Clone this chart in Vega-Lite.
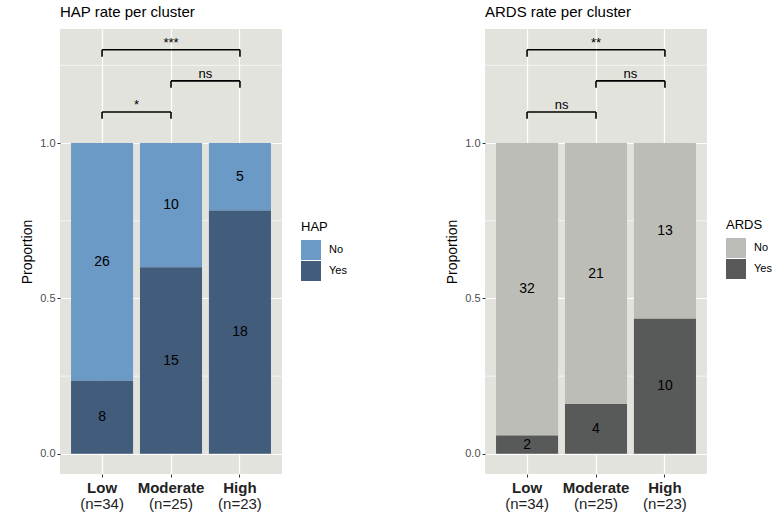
{
  "$schema": "https://vega.github.io/schema/vega-lite/v6.json",
  "padding": {"left": 20, "top": 5, "right": 0, "bottom": 5},
  "datasets": {
    "hap": [
      {"cluster": "Low", "HAP": "No", "n": 26},
      {"cluster": "Low", "HAP": "Yes", "n": 8},
      {"cluster": "Moderate", "HAP": "No", "n": 10},
      {"cluster": "Moderate", "HAP": "Yes", "n": 15},
      {"cluster": "High", "HAP": "No", "n": 5},
      {"cluster": "High", "HAP": "Yes", "n": 18}
    ],
    "ards": [
      {"cluster": "Low", "ARDS": "No", "n": 32},
      {"cluster": "Low", "ARDS": "Yes", "n": 2},
      {"cluster": "Moderate", "ARDS": "No", "n": 21},
      {"cluster": "Moderate", "ARDS": "Yes", "n": 4},
      {"cluster": "High", "ARDS": "No", "n": 13},
      {"cluster": "High", "ARDS": "Yes", "n": 10}
    ],
    "hapsig": [
      {"from": "Low", "to": "Moderate", "y": 1.10, "tip": 1.078, "label": "*", "wide": false},
      {"from": "Moderate", "to": "High", "y": 1.20, "tip": 1.178, "label": "ns", "wide": false},
      {"from": "Low", "to": "High", "y": 1.30, "tip": 1.278, "label": "***", "wide": true}
    ],
    "ardssig": [
      {"from": "Low", "to": "Moderate", "y": 1.10, "tip": 1.078, "label": "ns", "wide": false},
      {"from": "Moderate", "to": "High", "y": 1.20, "tip": 1.178, "label": "ns", "wide": false},
      {"from": "Low", "to": "High", "y": 1.30, "tip": 1.278, "label": "**", "wide": true}
    ],
    "minor": [{"v": 0.25}, {"v": 0.75}, {"v": 1.25}]
  },
  "hconcat": [
    {
      "width": 222,
      "height": 445,
      "title": {"text": "HAP rate per cluster"},
      "resolve": {"axis": {"x": "independent", "y": "independent"}},
      "layer": [
        {
          "data": {"name": "minor"},
          "mark": {"type": "rule", "color": "white", "strokeWidth": 0.6},
          "encoding": {"y": {"field": "v", "type": "quantitative", "scale": {"domain": [-0.065, 1.367], "nice": false, "zero": false}, "axis": null}}
        },
        {
          "data": {"name": "hap"},
          "mark": {"type": "bar"},
          "encoding": {
            "x": {"field": "cluster", "type": "nominal", "scale": {"domain": ["Low", "Moderate", "High"], "paddingInner": 0.1, "paddingOuter": 0.16},
              "axis": {"title": null, "labelFontWeight": "bold", "labelFontSize": 15, "labelColor": "#222222", "labelAngle": 0, "bandPosition": 0.5, "grid": true, "labelPadding": 3}},
            "y": {"field": "n", "type": "quantitative", "stack": "normalize", "scale": {"domain": [-0.065, 1.367], "nice": false, "zero": false},
              "axis": {"title": "Proportion", "values": [0, 0.5, 1], "labelExpr": "format(datum.value, '.1f')", "grid": true}},
            "color": {"field": "HAP", "type": "nominal", "scale": {"domain": ["No", "Yes"], "range": ["#6a9ac5", "#425d7c"]},
              "legend": {"title": "HAP", "orient": "none", "legendX": 241, "legendY": 192}},
            "order": {"field": "HAP", "sort": "descending"}
          }
        },
        {
          "data": {"name": "hap"},
          "mark": {"type": "text", "fontSize": 14, "color": "black"},
          "encoding": {
            "x": {"field": "cluster", "type": "nominal", "scale": {"domain": ["Low", "Moderate", "High"]},
              "axis": {"orient": "bottom", "title": null, "labelExpr": "datum.value == 'Low' ? '(n=34)' : datum.value == 'Moderate' ? '(n=25)' : '(n=23)'", "labelFontSize": 15, "labelFontWeight": "normal", "labelColor": "#222222", "ticks": false, "domain": false, "grid": false, "labelPadding": 22, "labelAngle": 0, "bandPosition": 0.5}},
            "y": {"field": "n", "type": "quantitative", "stack": "normalize", "bandPosition": 0.5, "scale": {"domain": [-0.065, 1.367], "nice": false, "zero": false}, "axis": null},
            "detail": {"field": "HAP", "type": "nominal"},
            "order": {"field": "HAP", "sort": "descending"},
            "text": {"field": "n", "type": "quantitative"}
          }
        },
        {
          "data": {"name": "hapsig"},
          "mark": {"type": "rule", "color": "black", "strokeWidth": 1.6},
          "encoding": {
            "x": {"field": "from", "type": "nominal", "scale": {"domain": ["Low", "Moderate", "High"]}, "bandPosition": 0.5, "axis": null},
            "x2": {"field": "to", "bandPosition": 0.5},
            "y": {"field": "y", "type": "quantitative", "scale": {"domain": [-0.065, 1.367], "nice": false, "zero": false}, "axis": null}
          }
        },
        {
          "data": {"name": "hapsig"},
          "mark": {"type": "rule", "color": "black", "strokeWidth": 1.6},
          "encoding": {
            "x": {"field": "from", "type": "nominal", "scale": {"domain": ["Low", "Moderate", "High"]}, "bandPosition": 0.5, "axis": null},
            "y": {"field": "y", "type": "quantitative", "scale": {"domain": [-0.065, 1.367], "nice": false, "zero": false}, "axis": null},
            "y2": {"field": "tip"}
          }
        },
        {
          "data": {"name": "hapsig"},
          "mark": {"type": "rule", "color": "black", "strokeWidth": 1.6},
          "encoding": {
            "x": {"field": "to", "type": "nominal", "scale": {"domain": ["Low", "Moderate", "High"]}, "bandPosition": 0.5, "axis": null},
            "y": {"field": "y", "type": "quantitative", "scale": {"domain": [-0.065, 1.367], "nice": false, "zero": false}, "axis": null},
            "y2": {"field": "tip"}
          }
        },
        {
          "data": {"name": "hapsig"},
          "transform": [{"filter": "!datum.wide"}],
          "mark": {"type": "text", "fontSize": 13, "baseline": "alphabetic", "dy": -3, "color": "black"},
          "encoding": {
            "x": {"field": "from", "type": "nominal", "scale": {"domain": ["Low", "Moderate", "High"]}, "bandPosition": 1.0556, "axis": null},
            "y": {"field": "y", "type": "quantitative", "scale": {"domain": [-0.065, 1.367], "nice": false, "zero": false}, "axis": null},
            "text": {"field": "label"}
          }
        },
        {
          "data": {"name": "hapsig"},
          "transform": [{"filter": "datum.wide"}],
          "mark": {"type": "text", "fontSize": 13, "baseline": "alphabetic", "dy": -3, "color": "black"},
          "encoding": {
            "x": {"field": "from", "type": "nominal", "scale": {"domain": ["Low", "Moderate", "High"]}, "bandPosition": 1.6111, "axis": null},
            "y": {"field": "y", "type": "quantitative", "scale": {"domain": [-0.065, 1.367], "nice": false, "zero": false}, "axis": null},
            "text": {"field": "label"}
          }
        }
      ]
    },
    {
      "width": 222,
      "height": 445,
      "title": {"text": "ARDS rate per cluster"},
      "resolve": {"axis": {"x": "independent", "y": "independent"}},
      "layer": [
        {
          "data": {"name": "minor"},
          "mark": {"type": "rule", "color": "white", "strokeWidth": 0.6},
          "encoding": {"y": {"field": "v", "type": "quantitative", "scale": {"domain": [-0.065, 1.367], "nice": false, "zero": false}, "axis": null}}
        },
        {
          "data": {"name": "ards"},
          "mark": {"type": "bar"},
          "encoding": {
            "x": {"field": "cluster", "type": "nominal", "scale": {"domain": ["Low", "Moderate", "High"], "paddingInner": 0.1, "paddingOuter": 0.16},
              "axis": {"title": null, "labelFontWeight": "bold", "labelFontSize": 15, "labelColor": "#222222", "labelAngle": 0, "bandPosition": 0.5, "grid": true, "labelPadding": 3}},
            "y": {"field": "n", "type": "quantitative", "stack": "normalize", "scale": {"domain": [-0.065, 1.367], "nice": false, "zero": false},
              "axis": {"title": "Proportion", "values": [0, 0.5, 1], "labelExpr": "format(datum.value, '.1f')", "grid": true}},
            "color": {"field": "ARDS", "type": "nominal", "scale": {"domain": ["No", "Yes"], "range": ["#bdbdb8", "#575a58"]},
              "legend": {"title": "ARDS", "orient": "none", "legendX": 241, "legendY": 190}},
            "order": {"field": "ARDS", "sort": "descending"}
          }
        },
        {
          "data": {"name": "ards"},
          "mark": {"type": "text", "fontSize": 14, "color": "black"},
          "encoding": {
            "x": {"field": "cluster", "type": "nominal", "scale": {"domain": ["Low", "Moderate", "High"]},
              "axis": {"orient": "bottom", "title": null, "labelExpr": "datum.value == 'Low' ? '(n=34)' : datum.value == 'Moderate' ? '(n=25)' : '(n=23)'", "labelFontSize": 15, "labelFontWeight": "normal", "labelColor": "#222222", "ticks": false, "domain": false, "grid": false, "labelPadding": 22, "labelAngle": 0, "bandPosition": 0.5}},
            "y": {"field": "n", "type": "quantitative", "stack": "normalize", "bandPosition": 0.5, "scale": {"domain": [-0.065, 1.367], "nice": false, "zero": false}, "axis": null},
            "detail": {"field": "ARDS", "type": "nominal"},
            "order": {"field": "ARDS", "sort": "descending"},
            "text": {"field": "n", "type": "quantitative"}
          }
        },
        {
          "data": {"name": "ardssig"},
          "mark": {"type": "rule", "color": "black", "strokeWidth": 1.6},
          "encoding": {
            "x": {"field": "from", "type": "nominal", "scale": {"domain": ["Low", "Moderate", "High"]}, "bandPosition": 0.5, "axis": null},
            "x2": {"field": "to", "bandPosition": 0.5},
            "y": {"field": "y", "type": "quantitative", "scale": {"domain": [-0.065, 1.367], "nice": false, "zero": false}, "axis": null}
          }
        },
        {
          "data": {"name": "ardssig"},
          "mark": {"type": "rule", "color": "black", "strokeWidth": 1.6},
          "encoding": {
            "x": {"field": "from", "type": "nominal", "scale": {"domain": ["Low", "Moderate", "High"]}, "bandPosition": 0.5, "axis": null},
            "y": {"field": "y", "type": "quantitative", "scale": {"domain": [-0.065, 1.367], "nice": false, "zero": false}, "axis": null},
            "y2": {"field": "tip"}
          }
        },
        {
          "data": {"name": "ardssig"},
          "mark": {"type": "rule", "color": "black", "strokeWidth": 1.6},
          "encoding": {
            "x": {"field": "to", "type": "nominal", "scale": {"domain": ["Low", "Moderate", "High"]}, "bandPosition": 0.5, "axis": null},
            "y": {"field": "y", "type": "quantitative", "scale": {"domain": [-0.065, 1.367], "nice": false, "zero": false}, "axis": null},
            "y2": {"field": "tip"}
          }
        },
        {
          "data": {"name": "ardssig"},
          "transform": [{"filter": "!datum.wide"}],
          "mark": {"type": "text", "fontSize": 13, "baseline": "alphabetic", "dy": -3, "color": "black"},
          "encoding": {
            "x": {"field": "from", "type": "nominal", "scale": {"domain": ["Low", "Moderate", "High"]}, "bandPosition": 1.0556, "axis": null},
            "y": {"field": "y", "type": "quantitative", "scale": {"domain": [-0.065, 1.367], "nice": false, "zero": false}, "axis": null},
            "text": {"field": "label"}
          }
        },
        {
          "data": {"name": "ardssig"},
          "transform": [{"filter": "datum.wide"}],
          "mark": {"type": "text", "fontSize": 13, "baseline": "alphabetic", "dy": -3, "color": "black"},
          "encoding": {
            "x": {"field": "from", "type": "nominal", "scale": {"domain": ["Low", "Moderate", "High"]}, "bandPosition": 1.6111, "axis": null},
            "y": {"field": "y", "type": "quantitative", "scale": {"domain": [-0.065, 1.367], "nice": false, "zero": false}, "axis": null},
            "text": {"field": "label"}
          }
        }
      ]
    }
  ],
  "spacing": 98,
  "resolve": {"scale": {"color": "independent"}, "legend": {"color": "independent"}},
  "config": {
    "font": "Liberation Sans",
    "view": {"fill": "#e3e3de", "stroke": null},
    "axis": {"domain": false, "tickColor": "#333333", "tickSize": 3, "labelColor": "#4d4d4d", "labelFontSize": 11, "labelPadding": 2, "titleFontSize": 14, "titleFontWeight": "normal", "titleColor": "black", "titlePadding": 5, "gridColor": "white", "gridWidth": 1.2},
    "legend": {"symbolType": "square", "symbolSize": 400, "symbolStrokeWidth": 0, "titleFontSize": 13, "titleFontWeight": "normal", "titleColor": "black", "labelFontSize": 11, "labelColor": "black", "rowPadding": 1, "titlePadding": 6, "labelOffset": 8, "padding": 0},
    "title": {"anchor": "start", "frame": "group", "fontSize": 15, "fontWeight": "normal", "color": "black", "offset": 9}
  }
}
